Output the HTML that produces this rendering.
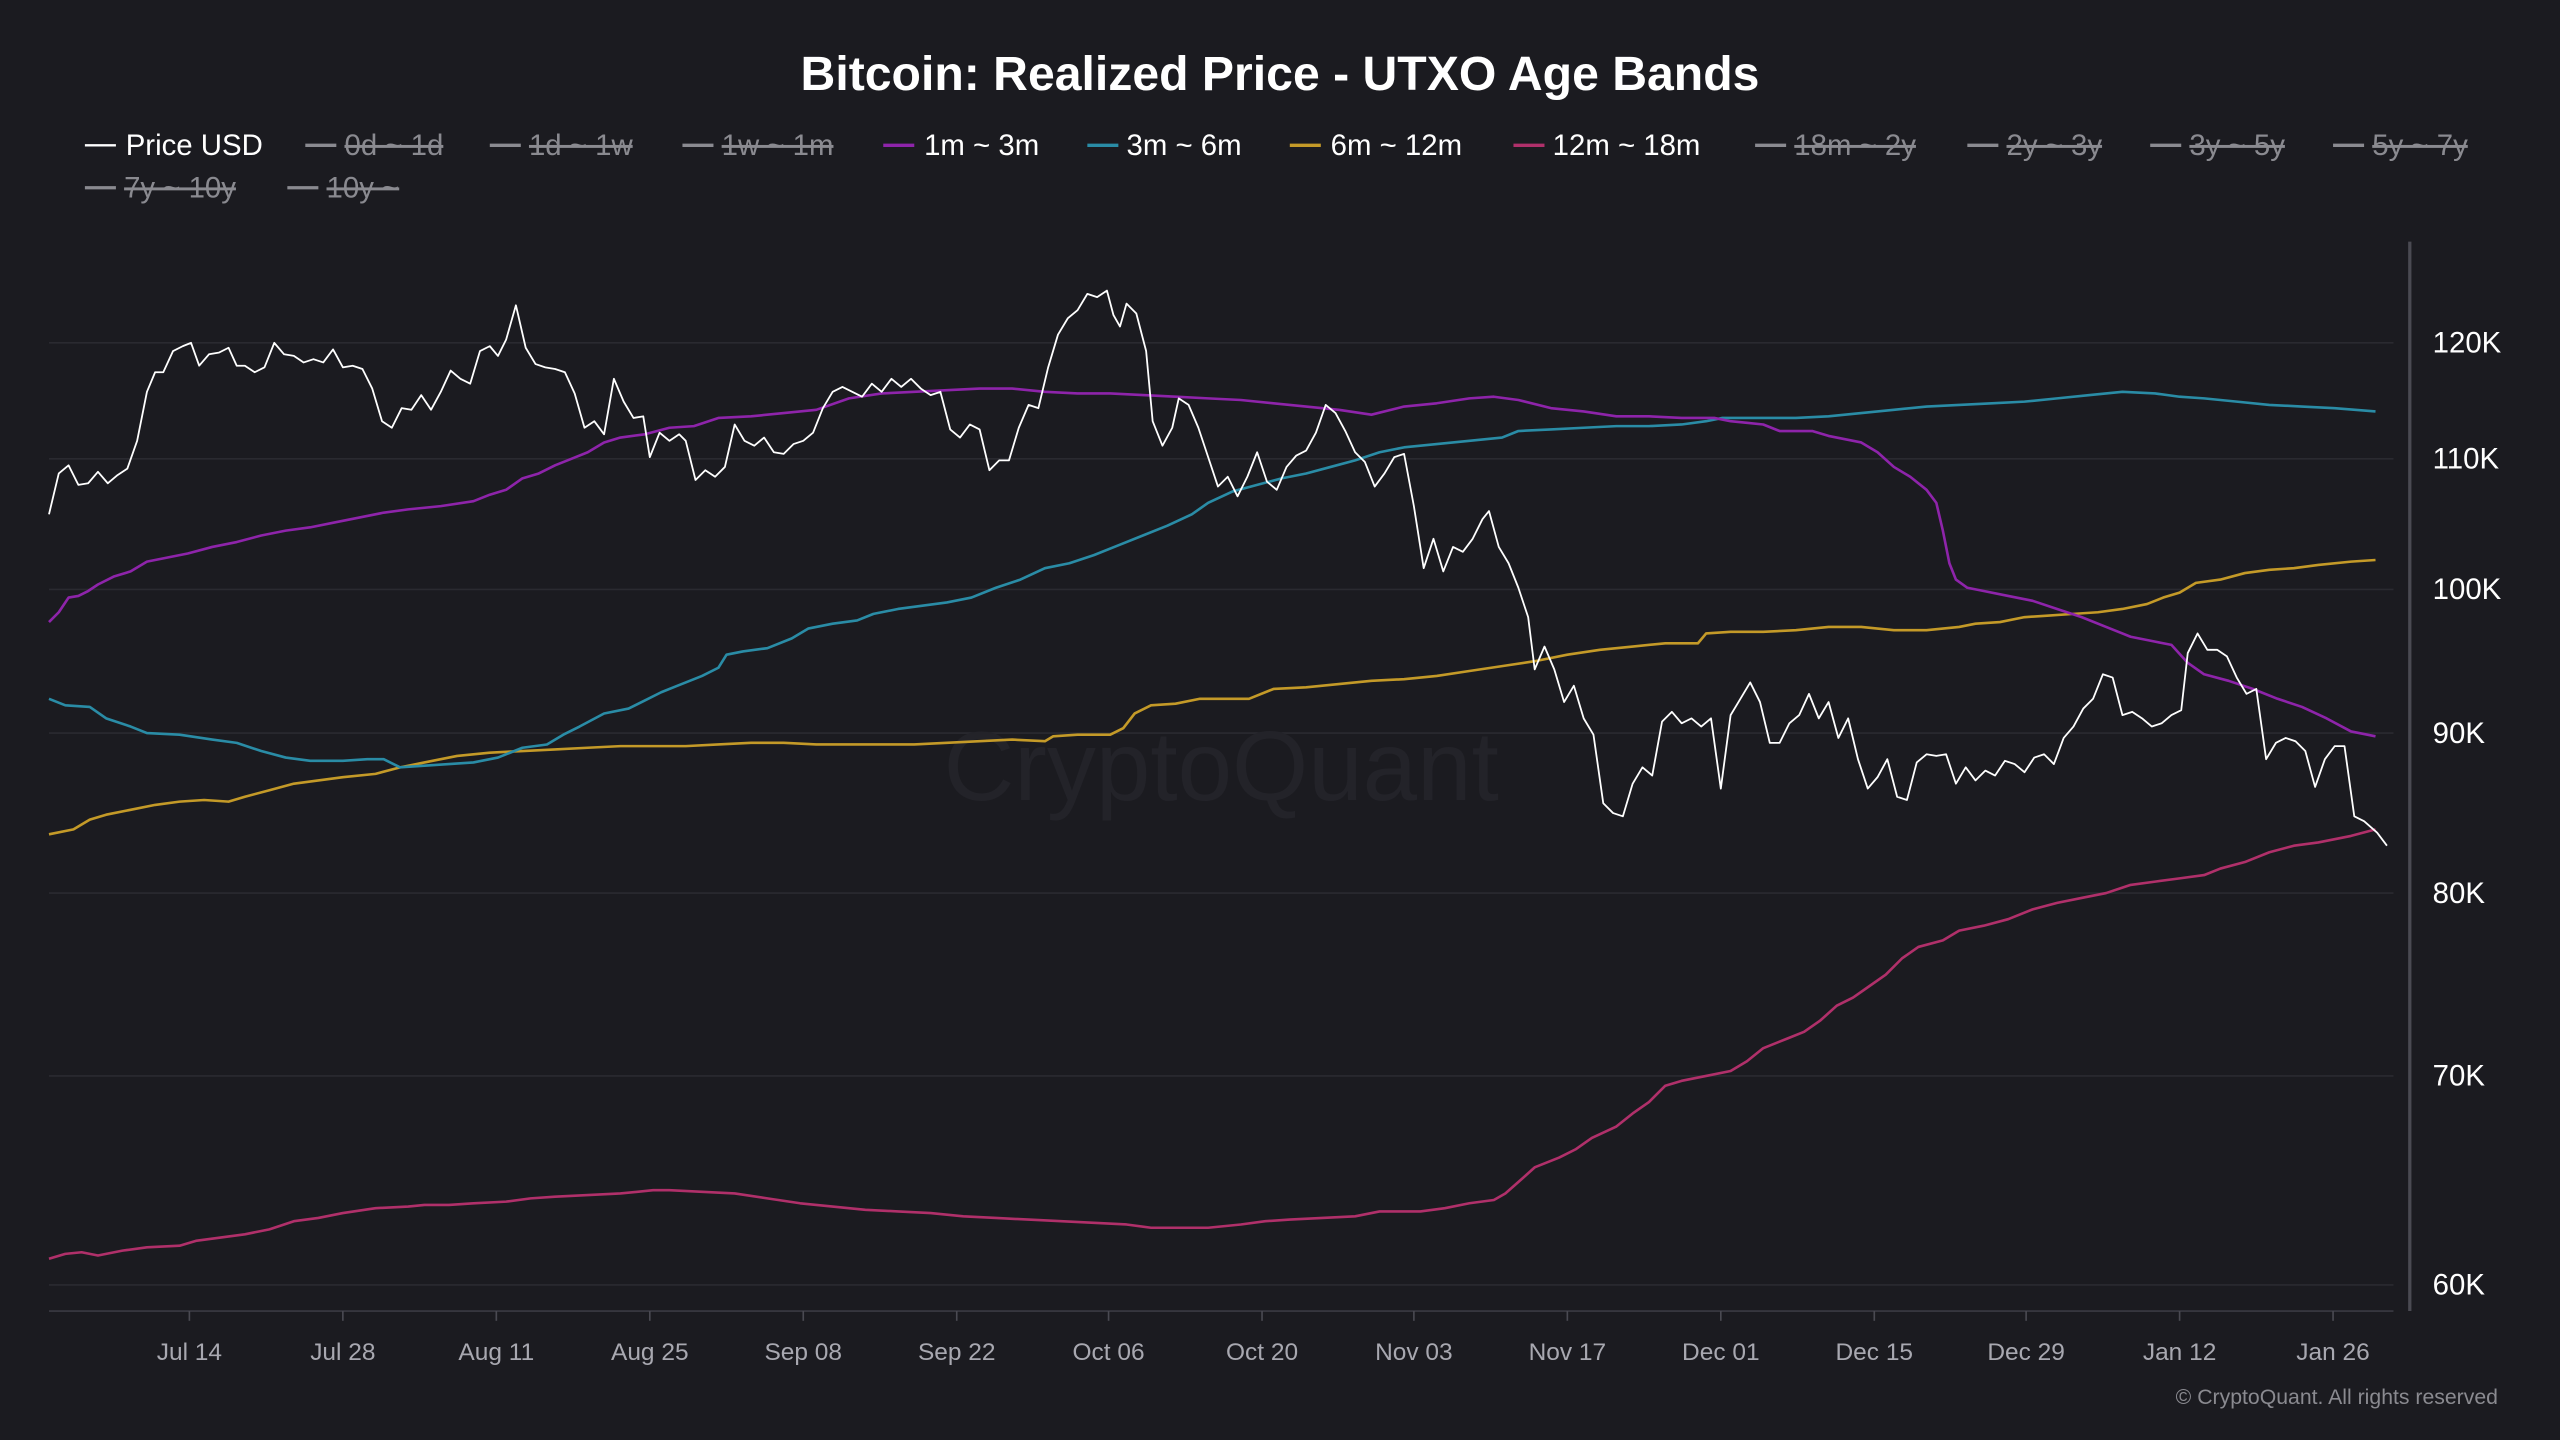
<!DOCTYPE html>
<html><head><meta charset="utf-8"><style>
html,body{margin:0;padding:0;background:#1b1b20;}
svg{display:block;font-family:"Liberation Sans",sans-serif;}
.lg{font-size:18px;fill:#fff;}
.off{font-size:18px;fill:#8a8a90;text-decoration:line-through;}
.yl{font-size:18px;fill:#fff;}
.xl{font-size:15px;fill:#a8a8b0;text-anchor:middle;}
</style></head><body>
<svg width="2560" height="1440" viewBox="0 0 1568 882" xmlns="http://www.w3.org/2000/svg">
<rect width="1568" height="882" fill="#1b1b20"/>
<text x="784" y="55" text-anchor="middle" font-size="29.5" font-weight="bold" fill="#fff">Bitcoin: Realized Price - UTXO Age Bands</text>
<g>
<line x1="52" y1="89" x2="71" y2="89" stroke="#fff" stroke-width="1.5"/><text class="lg" x="77" y="95">Price USD</text>
<line x1="187" y1="89" x2="206" y2="89" stroke="#8a8a90" stroke-width="2"/><text class="off" x="211" y="95">0d ~ 1d</text>
<line x1="300" y1="89" x2="319" y2="89" stroke="#8a8a90" stroke-width="2"/><text class="off" x="324" y="95">1d ~ 1w</text>
<line x1="418" y1="89" x2="437" y2="89" stroke="#8a8a90" stroke-width="2"/><text class="off" x="442" y="95">1w ~ 1m</text>
<line x1="541" y1="89" x2="560" y2="89" stroke="#8e24aa" stroke-width="2"/><text class="lg" x="566" y="95">1m ~ 3m</text>
<line x1="666" y1="89" x2="685" y2="89" stroke="#2a8ca6" stroke-width="2"/><text class="lg" x="690" y="95">3m ~ 6m</text>
<line x1="790" y1="89" x2="809" y2="89" stroke="#c49a28" stroke-width="2"/><text class="lg" x="815" y="95">6m ~ 12m</text>
<line x1="927" y1="89" x2="946" y2="89" stroke="#b0306a" stroke-width="2"/><text class="lg" x="951" y="95">12m ~ 18m</text>
<line x1="1075" y1="89" x2="1094" y2="89" stroke="#8a8a90" stroke-width="2"/><text class="off" x="1099" y="95">18m ~ 2y</text>
<line x1="1205" y1="89" x2="1224" y2="89" stroke="#8a8a90" stroke-width="2"/><text class="off" x="1229" y="95">2y ~ 3y</text>
<line x1="1317" y1="89" x2="1336" y2="89" stroke="#8a8a90" stroke-width="2"/><text class="off" x="1341" y="95">3y ~ 5y</text>
<line x1="1429" y1="89" x2="1448" y2="89" stroke="#8a8a90" stroke-width="2"/><text class="off" x="1453" y="95">5y ~ 7y</text>
<line x1="52" y1="115" x2="71" y2="115" stroke="#8a8a90" stroke-width="2"/><text class="off" x="76" y="121">7y ~ 10y</text>
<line x1="176" y1="115" x2="195" y2="115" stroke="#8a8a90" stroke-width="2"/><text class="off" x="200" y="121">10y ~</text>
</g>
<g stroke="#2a2a30" stroke-width="1">
<line x1="30" y1="210" x2="1466" y2="210"/><line x1="30" y1="281" x2="1466" y2="281"/>
<line x1="30" y1="361" x2="1466" y2="361"/><line x1="30" y1="449" x2="1466" y2="449"/>
<line x1="30" y1="547" x2="1466" y2="547"/><line x1="30" y1="659" x2="1466" y2="659"/>
<line x1="30" y1="787" x2="1466" y2="787"/>
</g>
<text x="748" y="490" text-anchor="middle" font-size="60" fill="#232329">CryptoQuant</text>
<line x1="1476" y1="148" x2="1476" y2="803" stroke="#4a4a52" stroke-width="2"/>
<line x1="30" y1="803" x2="1466" y2="803" stroke="#3a3a42" stroke-width="1"/>
<g class="yl">
<text x="1490" y="216">120K</text><text x="1490" y="287">110K</text><text x="1490" y="367">100K</text>
<text x="1490" y="455">90K</text><text x="1490" y="553">80K</text><text x="1490" y="665">70K</text><text x="1490" y="793">60K</text>
</g>
<g stroke="#4a4a52">
<line x1="116" y1="803" x2="116" y2="809"/><line x1="210" y1="803" x2="210" y2="809"/><line x1="304" y1="803" x2="304" y2="809"/><line x1="398" y1="803" x2="398" y2="809"/><line x1="492" y1="803" x2="492" y2="809"/><line x1="586" y1="803" x2="586" y2="809"/><line x1="679" y1="803" x2="679" y2="809"/><line x1="773" y1="803" x2="773" y2="809"/><line x1="866" y1="803" x2="866" y2="809"/><line x1="960" y1="803" x2="960" y2="809"/><line x1="1054" y1="803" x2="1054" y2="809"/><line x1="1148" y1="803" x2="1148" y2="809"/><line x1="1241" y1="803" x2="1241" y2="809"/><line x1="1335" y1="803" x2="1335" y2="809"/><line x1="1429" y1="803" x2="1429" y2="809"/>
</g>
<g class="xl">
<text x="116" y="833">Jul 14</text><text x="210" y="833">Jul 28</text><text x="304" y="833">Aug 11</text><text x="398" y="833">Aug 25</text><text x="492" y="833">Sep 08</text><text x="586" y="833">Sep 22</text><text x="679" y="833">Oct 06</text><text x="773" y="833">Oct 20</text><text x="866" y="833">Nov 03</text><text x="960" y="833">Nov 17</text><text x="1054" y="833">Dec 01</text><text x="1148" y="833">Dec 15</text><text x="1241" y="833">Dec 29</text><text x="1335" y="833">Jan 12</text><text x="1429" y="833">Jan 26</text>
</g>
<text x="1530" y="860" text-anchor="end" font-size="13" fill="#8a8a90">© CryptoQuant. All rights reserved</text>
<g fill="none" stroke-width="1.6" stroke-linejoin="round">
<polyline stroke="#b0306a" points="30,771 40,768 50,767 60,769 75,766 90,764 110,763 120,760 135,758 150,756 165,753 180,748 195,746 210,743 230,740 250,739 260,738 275,738 290,737 310,736 325,734 340,733 360,732 380,731 400,729 410,729 430,730 450,731 470,734 490,737 510,739 530,741 550,742 570,743 590,745 610,746 630,747 650,748 670,749 690,750 705,752 720,752 740,752 760,750 775,748 790,747 810,746 830,745 845,742 870,742 885,740 900,737 915,735 922,731 930,724 940,715 955,709 965,704 975,697 990,690 1000,682 1010,675 1020,665 1030,662 1045,659 1060,656 1070,650 1080,642 1095,636 1105,632 1115,625 1125,616 1135,611 1145,604 1155,597 1165,587 1175,580 1190,576 1200,570 1215,567 1230,563 1245,557 1260,553 1275,550 1290,547 1305,542 1320,540 1335,538 1350,536 1360,532 1375,528 1390,522 1405,518 1420,516 1440,512 1455,508"/>
<polyline stroke="#c49a28" points="30,511 45,508 55,502 65,499 80,496 95,493 110,491 125,490 140,491 150,488 165,484 180,480 195,478 210,476 230,474 245,470 260,467 280,463 300,461 320,460 340,459 360,458 380,457 400,457 420,457 440,456 460,455 480,455 500,456 520,456 540,456 560,456 580,455 600,454 620,453 640,454 645,451 660,450 680,450 688,446 695,437 705,432 720,431 735,428 750,428 765,428 780,422 800,421 820,419 840,417 860,416 880,414 900,411 920,408 940,405 960,401 980,398 1000,396 1020,394 1040,394 1045,388 1060,387 1080,387 1100,386 1120,384 1140,384 1160,386 1180,386 1200,384 1210,382 1225,381 1240,378 1255,377 1270,376 1285,375 1300,373 1315,370 1325,366 1335,363 1345,357 1360,355 1375,351 1390,349 1405,348 1420,346 1440,344 1455,343"/>
<polyline stroke="#2a8ca6" points="30,428 40,432 55,433 65,440 80,445 90,449 110,450 130,453 145,455 160,460 175,464 190,466 210,466 225,465 235,465 245,470 260,469 275,468 290,467 305,464 320,458 335,456 345,450 355,445 370,437 385,434 395,429 405,424 415,420 430,414 440,409 445,401 455,399 470,397 485,391 495,385 510,382 525,380 535,376 550,373 565,371 580,369 595,366 610,360 625,355 640,348 655,345 670,340 685,334 700,328 715,322 730,315 740,308 755,301 770,297 785,293 800,290 815,286 830,282 845,277 860,274 880,272 900,270 920,268 930,264 950,263 970,262 990,261 1010,261 1030,260 1045,258 1055,256 1080,256 1100,256 1120,255 1140,253 1160,251 1180,249 1200,248 1220,247 1240,246 1260,244 1280,242 1300,240 1320,241 1335,243 1350,244 1370,246 1390,248 1410,249 1430,250 1455,252"/>
<polyline stroke="#8e24aa" points="30,381 36,375 42,366 48,365 54,362 60,358 70,353 80,350 90,344 100,342 115,339 130,335 145,332 160,328 175,325 190,323 205,320 220,317 235,314 250,312 270,310 290,307 300,303 310,300 320,293 330,290 340,285 350,281 360,277 370,271 380,268 395,266 410,262 425,261 440,256 460,255 480,253 500,251 520,244 540,241 560,240 580,239 600,238 620,238 640,240 660,241 680,241 700,242 720,243 740,244 760,245 780,247 800,249 820,251 840,254 860,249 880,247 900,244 915,243 930,245 950,250 970,252 990,255 1010,255 1030,256 1050,256 1060,258 1070,259 1080,260 1090,264 1110,264 1120,267 1130,269 1140,271 1150,277 1160,286 1170,292 1180,300 1186,308 1190,325 1194,345 1198,355 1205,360 1215,362 1230,365 1245,368 1260,373 1275,378 1290,384 1305,390 1320,393 1330,395 1340,406 1350,413 1365,417 1380,422 1395,428 1410,433 1425,440 1440,448 1455,451"/>
<polyline stroke="#ffffff" stroke-width="1.1" points="30,315 36,290 42,285 48,297 54,296 60,289 66,296 72,291 78,287 84,270 90,240 95,228 100,228 106,215 112,212 117,210 122,224 128,217 134,216 140,213 145,224 150,224 156,228 162,225 168,210 174,217 180,218 186,222 192,220 198,222 204,214 210,225 216,224 222,226 228,238 234,258 240,262 246,250 252,251 258,242 264,251 270,240 276,227 282,232 288,235 294,215 300,212 305,218 310,208 316,187 322,213 328,223 334,225 340,226 346,228 352,241 358,262 364,258 370,266 376,232 382,246 388,256 394,255 398,280 404,265 410,270 416,266 420,270 426,294 432,288 438,292 444,286 450,260 456,270 462,273 468,268 474,277 480,278 486,272 492,270 498,265 504,250 510,240 516,237 522,240 528,243 534,235 540,240 546,232 552,237 558,232 564,238 570,242 576,240 582,263 588,268 594,260 600,263 606,288 612,282 618,282 624,262 630,248 636,250 642,225 648,205 654,195 660,190 666,180 672,182 678,178 682,193 686,200 690,186 696,192 702,215 706,258 712,273 718,262 722,244 728,248 734,262 740,280 746,298 752,292 758,304 764,292 770,277 776,295 782,300 788,286 794,279 800,276 806,265 812,248 818,253 824,264 830,277 836,283 842,298 848,290 854,280 860,278 866,310 872,348 878,330 884,350 890,335 896,338 902,330 908,318 912,313 918,335 924,345 930,360 936,378 940,410 946,396 952,410 958,430 964,420 970,440 976,450 982,492 988,498 994,500 1000,480 1006,470 1012,475 1018,442 1024,436 1030,443 1036,440 1042,445 1048,440 1054,483 1060,438 1066,428 1072,418 1078,430 1084,455 1090,455 1096,443 1102,438 1108,425 1114,440 1120,430 1126,452 1132,440 1138,465 1144,483 1150,476 1156,465 1162,488 1168,490 1174,467 1180,462 1186,463 1192,462 1198,480 1204,470 1210,478 1216,472 1222,475 1228,466 1234,468 1240,473 1246,464 1252,462 1258,468 1264,452 1270,445 1276,434 1282,428 1288,413 1294,415 1300,438 1306,436 1312,440 1318,445 1324,443 1330,438 1336,435 1340,400 1346,388 1352,398 1358,398 1364,402 1370,415 1376,425 1382,422 1388,465 1394,455 1400,452 1406,454 1412,460 1418,482 1424,465 1430,457 1436,457 1442,500 1448,503 1456,510 1462,518"/>
</g>
</svg>
</body></html>
